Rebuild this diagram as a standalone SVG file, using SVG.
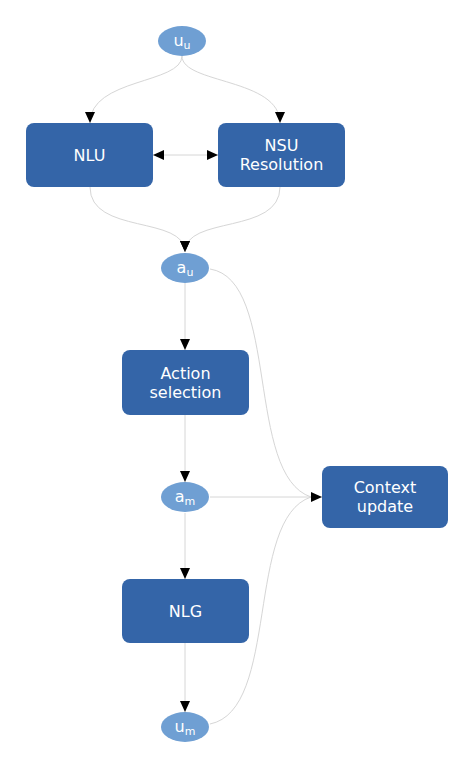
<svg xmlns="http://www.w3.org/2000/svg" width="474" height="767" viewBox="0 0 474 767">
<defs>
<marker id="ah" viewBox="0 0 11 10" refX="11" refY="5" markerWidth="11" markerHeight="10" markerUnits="userSpaceOnUse" orient="auto-start-reverse">
<path d="M0,0 L11,5 L0,10 z" fill="#000"/>
</marker>
<style>
.box{fill:#3465a8;}
.ell{fill:#6f9fd3;}
.t{font-family:"DejaVu Sans",sans-serif;font-size:16px;fill:#fff;text-anchor:middle;}
.s{font-size:11px;}
.e{fill:none;stroke:#d6d6d6;stroke-width:1;marker-end:url(#ah);}
.n{fill:none;stroke:#d6d6d6;stroke-width:1;}
</style>
</defs>
<rect width="474" height="767" fill="#fff"/>
<g id="edges">
<path class="e" d="M182,56 C182,84 90,78 90,123"/>
<path class="e" d="M182,56 C182,84 280,78 280,123"/>
<path class="e" d="M153,155 L218,155" style="marker-start:url(#ah)"/>
<path class="e" d="M90,187 C90,235 185,215 185,252"/>
<path class="e" d="M280,187 C280,235 185,215 185,252"/>
<path class="e" d="M185,283 L185,350"/>
<path class="e" d="M185,415 L185,482"/>
<path class="e" d="M185,513 L185,579"/>
<path class="e" d="M185,643 L185,712"/>
<path class="n" d="M210,269 C280,280 245,475 311,497"/>
<path class="e" d="M210,497 L322,497"/>
<path class="n" d="M210,724 C280,710 245,519 311,497"/>
</g>
<g id="uu"><ellipse class="ell" cx="182" cy="41" rx="24" ry="15"/><text class="t" x="182" y="46">u<tspan class="s" dy="3">u</tspan></text></g>
<g id="nlu"><rect class="box" x="26" y="123" width="127" height="64" rx="8"/><text class="t" x="89.5" y="161">NLU</text></g>
<g id="nsu"><rect class="box" x="218" y="123" width="127" height="64" rx="8"/><text class="t" x="281.5" y="151">NSU</text><text class="t" x="281.5" y="170">Resolution</text></g>
<g id="au"><ellipse class="ell" cx="185" cy="268" rx="24" ry="15"/><text class="t" x="185" y="273">a<tspan class="s" dy="3">u</tspan></text></g>
<g id="action"><rect class="box" x="122" y="350" width="127" height="65" rx="8"/><text class="t" x="185.5" y="379">Action</text><text class="t" x="185.5" y="398">selection</text></g>
<g id="am"><ellipse class="ell" cx="185" cy="497" rx="24" ry="15"/><text class="t" x="185" y="502">a<tspan class="s" dy="3">m</tspan></text></g>
<g id="ctx"><rect class="box" x="322" y="466" width="126" height="62" rx="8"/><text class="t" x="385" y="493">Context</text><text class="t" x="385" y="512">update</text></g>
<g id="nlg"><rect class="box" x="122" y="579" width="127" height="64" rx="8"/><text class="t" x="185.5" y="617">NLG</text></g>
<g id="um"><ellipse class="ell" cx="185" cy="727" rx="24" ry="15"/><text class="t" x="185" y="732">u<tspan class="s" dy="3">m</tspan></text></g>
</svg>
